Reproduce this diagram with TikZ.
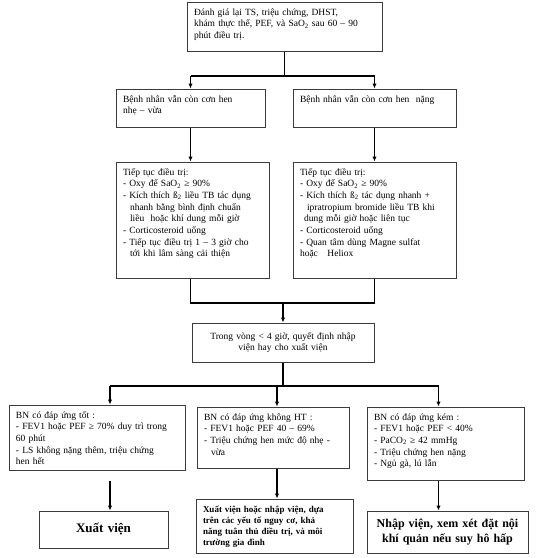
\documentclass[tikz,border=0pt]{standalone}
\usepackage{fontspec}
\setmainfont{Liberation Serif}
\usetikzlibrary{arrows.meta, calc}
\definecolor{boxgray}{RGB}{60, 60, 60}
\newcommand{\cont}{\hspace*{7pt}}
\newcommand{\subtwo}{\textsubscript{2}}

\begin{document}
\begin{tikzpicture}[
  x=1pt, y=-1pt,
  box/.style={rectangle, draw=boxgray, line width=1pt, inner xsep=7pt, inner ysep=3pt, align=left, font=\fontsize{9.5}{11.7}\selectfont},
  topbox/.style={box, text height=10pt, text depth=#1},
  midbox/.style={box, align=center},
  line/.style={line width=1.1pt, black},
  arrow/.style={-{Latex[length=5pt, width=4.5pt]}, line width=1.1pt, black}
]
  \useasboundingbox (0,0) rectangle (550,558);

  \node[topbox=33pt, text width=181pt] (review) at (284.5, 26.5)
    {Đánh giá lại TS, triệu chứng, DHST,\\ khám thực thể, PEF, và SaO\subtwo{} sau 60 – 90\\ phút điều trị.};

  \node[topbox=22pt, text width=135pt] (mild) at (190.5, 108)
    {Bệnh nhân vẫn còn cơn hen\\ nhẹ – vừa};
  \node[topbox=22pt, text width=149pt] (severe) at (374.5, 108)
    {Bệnh nhân vẫn còn cơn hen\ \ nặng};

  \node[topbox=100pt, text width=139pt] (treatL) at (192.5, 220)
    {Tiếp tục điều trị:\\
     - Oxy để SaO\subtwo{} ≥ 90\%\\
     - Kích thích ß\subtwo{} liều TB tác dụng\\
     \cont nhanh bằng bình định chuẩn\\
     \cont liều\ \ hoặc khí dung mỗi giờ\\
     - Corticosteroid uống\\
     - Tiếp tục điều trị 1 – 3 giờ cho\\
     \cont tới khi lâm sàng cải thiện};
  \node[topbox=100pt, text width=149pt] (treatR) at (374.5, 220)
    {Tiếp tục điều trị:\\
     - Oxy để SaO\subtwo{} ≥ 90\%\\
     - Kích thích ß\subtwo{} tác dụng nhanh +\\
     \cont ipratropium bromide liều TB khi\\
     \hspace*{4pt}dung mỗi giờ hoặc liên tục\\
     - Corticosteroid uống\\
     - Quan tâm dùng Magne sulfat\\
     hoặc\ \ \ Heliox};

  \node[midbox, text width=168pt, minimum height=39pt] (decide) at (283, 342.5)
    {Trong vòng < 4 giờ, quyết định nhập\\ viện hay cho xuất viện};

  \node[topbox=49pt, text width=162pt] (good) at (97, 437.5)
    {BN có đáp ứng tốt :\\
     - FEV1 hoặc PEF ≥ 70\% duy trì trong\\
     60 phút\\
     - LS không nặng thêm, triệu chứng\\
     hen hết};
  \node[topbox=45pt, text width=138pt] (partial) at (273, 437.5)
    {BN có đáp ứng không HT :\\
     - FEV1 hoặc PEF 40 – 69\%\\
     - Triệu chứng hen mức độ nhẹ -\\
     \cont vừa};
  \node[topbox=57pt, text width=143pt] (poor) at (445.5, 443.5)
    {BN có đáp ứng kém :\\
     - FEV1 hoặc PEF < 40\%\\
     - PaCO\subtwo{} ≥ 42 mmHg\\
     - Triệu chứng hen nặng\\
     - Ngủ gà, lú lẫn};

  \node[midbox, text width=115pt, minimum height=37pt, font=\fontsize{13}{15}\selectfont\bfseries] (home) at (103.5, 529.5)
    {Xuất viện};
  \node[topbox=38pt, text width=143pt, font=\fontsize{9}{11.3}\selectfont\bfseries] (either) at (274.5, 526)
    {Xuất viện hoặc nhập viện, dựa\\ trên các yếu tố nguy cơ, khả\\ năng tuân thủ điều trị, và môi\\ trường gia đình};
  \node[midbox, text width=153pt, inner xsep=4pt, minimum height=42pt, font=\fontsize{12}{14.5}\selectfont\bfseries] (admit) at (447.5, 532)
    {Nhập viện, xem xét đặt nội\\ khí quản nếu suy hô hấp};

  % split after the first review
  \coordinate (s1) at (284.5, 76);
  \coordinate (s1l) at (190.5, 76);
  \coordinate (s1r) at (374.5, 76);
  \draw[line] (review) -- (s1);
  \draw[line] (s1l) -- (s1r);
  \draw[arrow] (s1l) -- (mild);
  \draw[arrow] (s1r) -- (severe);
  \draw[arrow] (mild.south) -- (mild.south |- treatL.north);
  \draw[arrow] (severe) -- (treatR);

  % join into the decision
  \coordinate (s2) at (283, 303);
  \coordinate (s2l) at (190.5, 303);
  \coordinate (s2r) at (374.5, 303);
  \draw[line] (s2l |- treatL.south) -- (s2l) -- (s2r) -- (s2r |- treatR.south);
  \draw[arrow] (s2) -- (decide);

  % three outcomes
  \coordinate (s3) at (283, 386);
  \coordinate (s3l) at (110, 386);
  \coordinate (s3m) at (277, 386);
  \coordinate (s3r) at (438.5, 386);
  \draw[line] (decide) -- (s3);
  \draw[line] (s3l) -- (s3r);
  \draw[arrow] (s3l) -- (s3l |- good.north);
  \draw[arrow] (s3m) -- (s3m |- partial.north);
  \draw[arrow] (s3r) -- (s3r |- poor.north);
  \draw[arrow, shorten <=10pt] (s3l |- good.south) -- (s3l |- home.north);
  \draw[arrow] (s3m |- partial.south) -- (s3m |- either.north);
  \draw[arrow] (s3r |- poor.south) -- (s3r |- admit.north);
\end{tikzpicture}
\end{document}
